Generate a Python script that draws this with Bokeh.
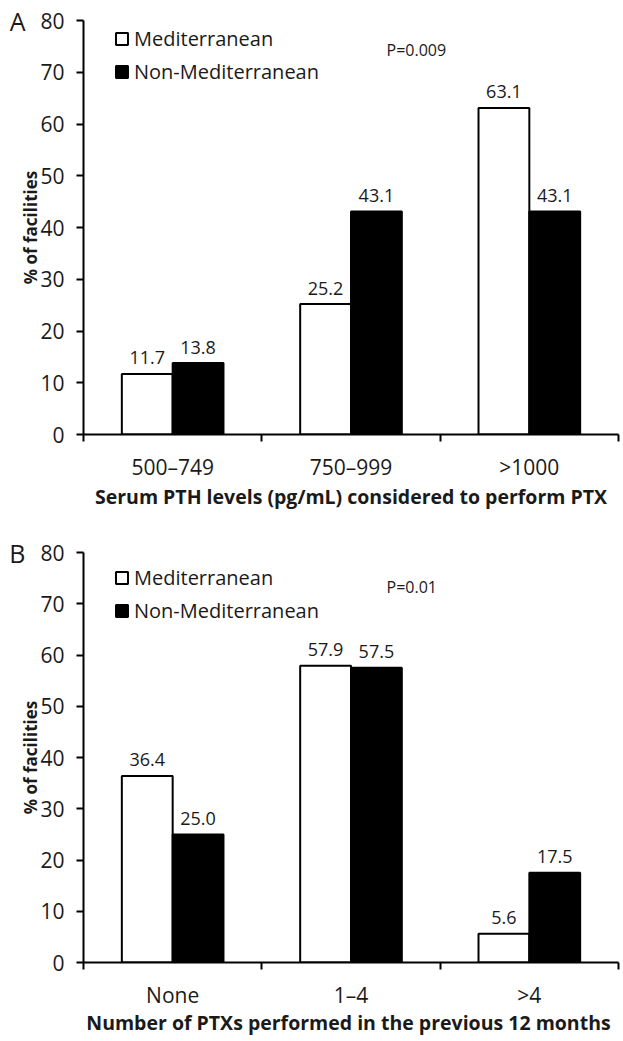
import numpy as np
from bokeh.plotting import figure
from bokeh.models import (ColumnDataSource, Range1d, FixedTicker, SingleIntervalTicker,
                          LabelSet, Label, Legend, LegendItem, LinearAxis)
from bokeh.core.properties import value
from bokeh.layouts import column
from bokeh.embed import file_html
from bokeh.resources import INLINE

# ---------------- data ----------------
cats_a = ["500–749", "750–999", ">1000"]
med_a = [11.7, 25.2, 63.1]
non_a = [13.8, 43.1, 43.1]
title_a = "Serum PTH levels (pg/mL) considered to perform PTX"
p_a = "P=0.009"

cats_b = ["None", "1–4", ">4"]
med_b = [36.4, 57.9, 5.6]
non_b = [25.0, 57.5, 17.5]
title_b = "Number of PTXs performed  in the previous 12 months"
p_b = "P=0.01"

series_names = ["Mediterranean", "Non-Mediterranean"]
y_max = 80
y_step = 10
y_title = "% of facilities"

FONT = "Open Sans"
TXT = "#1a1a1a"
BAR_W = 0.285
OFF = 0.1425


def panel(letter, cats, med, non, xtitle, ptxt, height, top, bottom,
          legend_top, p_top, title_standoff):
    n = len(cats)
    centers = np.arange(n) + 0.5
    src = ColumnDataSource(dict(
        xm=centers - OFF, xn=centers + OFF,
        med=med, non=non,
        med_lbl=[f"{v:.1f}" for v in med],
        non_lbl=[f"{v:.1f}" for v in non],
    ))
    fh = height - top - bottom
    p = figure(width=620, height=height, output_backend="svg", toolbar_location=None,
               x_range=Range1d(0, n), y_range=Range1d(0, y_max),
               min_border_left=83, min_border_right=2,
               min_border_top=top, min_border_bottom=bottom)
    p.outline_line_color = None
    p.grid.grid_line_color = None
    p.background_fill_color = "white"

    rm = p.vbar(x="xm", top="med", width=BAR_W, source=src,
                fill_color="white", line_color="black", line_width=2)
    rn = p.vbar(x="xn", top="non", width=BAR_W, source=src,
                fill_color="black", line_color="black", line_width=2)

    for col, lbl in (("xm", "med"), ("xn", "non")):
        p.add_layout(LabelSet(x=col, y=lbl, text=lbl + "_lbl", source=src,
                              text_align="center", text_baseline="middle",
                              y_offset=16, text_font=value(FONT),
                              text_font_size=value("18px"),
                              text_color=TXT))

    # x axis
    xa = p.xaxis[0]
    xa.ticker = FixedTicker(ticks=list(centers), minor_ticks=list(range(n + 1)))
    xa.major_label_overrides = {float(c): cats[i] for i, c in enumerate(centers)}
    xa.major_tick_out = 0
    xa.major_tick_in = 0
    xa.minor_tick_out = 7
    xa.minor_tick_in = 0
    xa.minor_tick_line_width = 2
    xa.minor_tick_line_color = "black"
    xa.axis_line_width = 2
    xa.axis_line_color = "black"
    xa.major_label_text_font = FONT
    xa.major_label_text_font_size = "21px"
    xa.major_label_text_color = TXT
    xa.major_label_standoff = 11
    xa.axis_label = xtitle
    xa.axis_label_text_font = FONT
    xa.axis_label_text_font_style = "bold"
    xa.axis_label_text_font_size = "19.5px"
    xa.axis_label_text_color = TXT
    xa.axis_label_standoff = title_standoff

    # y axis
    ya = p.yaxis[0]
    ya.ticker = SingleIntervalTicker(interval=y_step, num_minor_ticks=0)
    ya.major_tick_out = 7
    ya.major_tick_in = 0
    ya.major_tick_line_width = 2
    ya.axis_line_width = 2
    ya.axis_line_color = "black"
    ya.major_label_text_font = FONT
    ya.major_label_text_font_size = "21px"
    ya.major_label_text_color = TXT
    ya.major_label_standoff = 12
    ya.axis_label = y_title
    ya.axis_label_text_font = FONT
    ya.axis_label_text_font_style = "bold"
    ya.axis_label_text_font_size = "17px"
    ya.axis_label_text_color = TXT
    ya.axis_label_standoff = -5

    # panel letter as an outer left axis label at the top of the scale
    la = LinearAxis(ticker=FixedTicker(ticks=[y_max]),
                    major_label_overrides={y_max: letter},
                    axis_line_color=None, major_tick_line_color=None,
                    minor_tick_line_color=None, major_tick_out=0, major_tick_in=0,
                    major_label_standoff=-9,
                    major_label_text_font=FONT, major_label_text_font_size="25px",
                    major_label_text_color=TXT)
    p.add_layout(la, "left")

    # legend
    row_h = 27
    spacing = 6
    leg_h = 2 * row_h + spacing
    legend = Legend(items=[LegendItem(label=series_names[0], renderers=[rm]),
                           LegendItem(label=series_names[1], renderers=[rn])],
                    location=(31, fh - legend_top - leg_h),
                    orientation="vertical",
                    padding=0, margin=0, spacing=spacing,
                    glyph_width=15, glyph_height=15, label_height=row_h,
                    label_standoff=5,
                    label_text_font=FONT, label_text_font_size="20px",
                    label_text_color=TXT,
                    background_fill_alpha=0, border_line_color=None)
    p.add_layout(legend, "center")

    p.add_layout(Label(x=303, y=fh - p_top, x_units="screen", y_units="screen",
                       text=ptxt, text_font=FONT, text_font_size="16px",
                       text_color=TXT, text_baseline="middle", text_align="left"))
    return p


pa = panel("A", cats_a, med_a, non_a, title_a, p_a, height=525, top=20, bottom=91,
           legend_top=5, p_top=29, title_standoff=-1)
pb = panel("B", cats_b, med_b, non_b, title_b, p_b, height=513, top=27, bottom=74,
           legend_top=14, p_top=36, title_standoff=-3)

layout = column(pa, pb, spacing=0)
open("out.html", "w").write(file_html(layout, INLINE))
